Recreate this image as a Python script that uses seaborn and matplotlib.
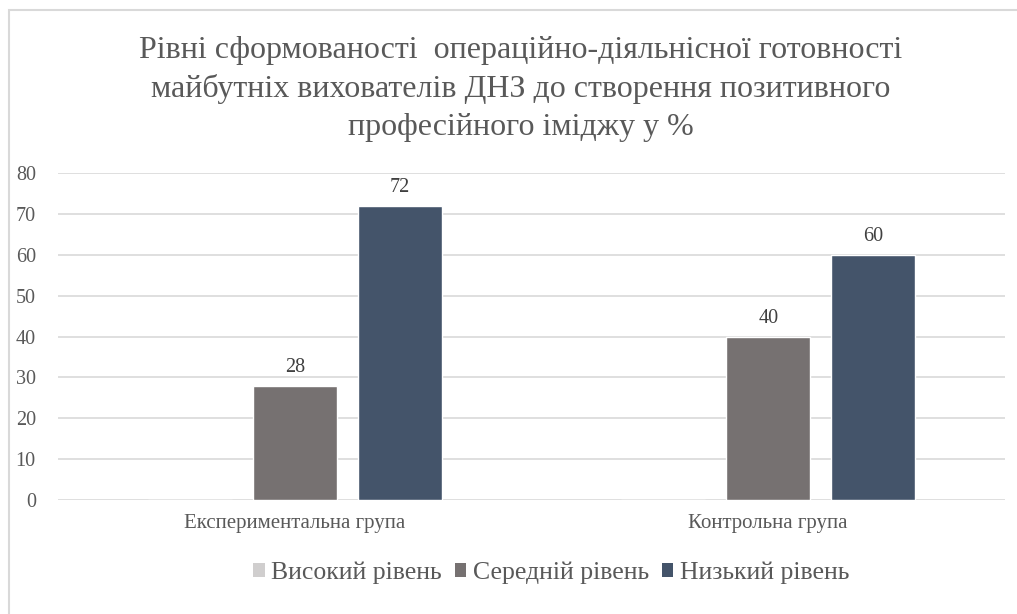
import pandas as pd
import seaborn as sns
import matplotlib.pyplot as plt
from matplotlib.patches import Patch

# Data
groups = ['Експериментальна група', 'Контрольна група']
levels = ['Високий рівень', 'Середній рівень', 'Низький рівень']
high = [0, 0]
middle = [28, 40]
low = [72, 60]
colors = ['#D0CECE', '#767171', '#44546A']
title = ('Рівні сформованості  операційно-діяльнісної готовності\n'
         'майбутніх вихователів ДНЗ до створення позитивного\n'
         'професійного іміджу у %')

rows = []
for lvl, vals in zip(levels, [high, middle, low]):
    for g, v in zip(groups, vals):
        rows.append({'group': g, 'level': lvl, 'value': v})
df = pd.DataFrame(rows)

sns.set_theme(style='white')
plt.rcParams['font.family'] = ['Liberation Serif', 'DejaVu Serif']
text_col = '#595959'

fig = plt.figure(figsize=(10.17, 6.14), dpi=100)
ax = fig.add_axes([58 / 1017, 114 / 614, 947 / 1017, 327 / 614])

sns.barplot(data=df, x='group', y='value', hue='level', hue_order=levels,
            palette=colors, width=0.665, gap=0.2, ax=ax, legend=False,
            saturation=1)

# value labels (none for empty series)
for cont in ax.containers:
    labels = [f'{int(b.get_height())}' if b.get_height() > 0 else '' for b in cont]
    ax.bar_label(cont, labels=labels, padding=6, fontsize=14.5, color='#404040')

ax.set_ylim(0, 80)
ax.set_yticks(range(0, 81, 10))
ax.set_xlim(-0.5, 1.5)
ax.yaxis.grid(True, color='#D9D9D9', linewidth=1.2)
ax.set_axisbelow(True)
for s in ax.spines.values():
    s.set_visible(False)
ax.tick_params(axis='y', length=0, pad=16, labelsize=14.5, labelcolor=text_col)
ax.tick_params(axis='x', length=0, pad=10, labelsize=15, labelcolor=text_col)
ax.set_xlabel('')
ax.set_ylabel('')

fig.text(0.512, 1 - 89 / 614, title, ha='center', va='center', fontsize=23,
         color=text_col, linespacing=1.38)

handles = [Patch(facecolor=c, edgecolor='none') for c in colors]
fig.legend(handles, levels, loc='center', bbox_to_anchor=(551 / 1017, 1 - 573 / 614),
           ncol=3, frameon=False, fontsize=18.5, handlelength=0.45, handleheight=0.45,
           handletextpad=0.25, columnspacing=0.5, labelcolor=text_col)

# outer chart frame
frame = plt.Rectangle((9 / 1017, -0.05), 1.1, 1 - 10 / 614 + 0.05,
                      transform=fig.transFigure, fill=False,
                      edgecolor='#D9D9D9', linewidth=1.5)
fig.patches.append(frame)

fig.savefig('out.png', dpi=100)
